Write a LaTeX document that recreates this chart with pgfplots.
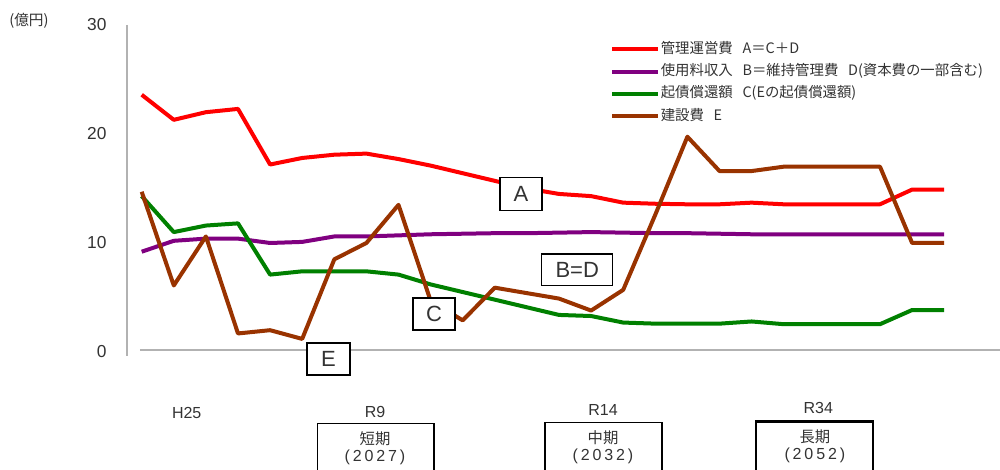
\documentclass[border=0pt]{standalone}
\usepackage{fontspec}
\setmainfont{Liberation Sans}
\newfontfamily\cjk{Noto Sans CJK JP}
\usepackage{pgfplots}
\pgfplotsset{compat=1.18}
\definecolor{cA}{HTML}{FF0000}
\definecolor{cB}{HTML}{800080}
\definecolor{cC}{HTML}{008000}
\definecolor{cE}{HTML}{993300}
\definecolor{txt}{HTML}{333333}
\begin{document}
\begin{tikzpicture}
\begin{axis}[
  at={(0,0)}, anchor=south west,
  scale only axis, width=750pt, height=352.5pt,
  xmin=-4.414, xmax=26.738, ymin=-10.826, ymax=32.294,
  axis line style={draw=none},
  xtick=\empty,
  ytick={0,10,20,30},
  major tick length=0pt,
  /pgf/number format/assume math mode=true,
  yticklabel style={anchor=east, xshift=80pt, inner sep=0pt, font=\fontsize{13}{13}\selectfont, text=txt},
  clip=false,
  legend style={at={(axis cs:14.461,28.899)}, anchor=north west, draw=none, fill=none,
    font=\cjk\fontsize{10.8}{13}\selectfont, text=txt, row sep=2.7pt,
    nodes={inner sep=1pt, text height=9pt, text depth=3pt}},
  legend cell align=left,
  legend image code/.code={\draw[#1, line width=3pt] (0pt,0pt) -- (34pt,0pt);},
  every axis plot/.append style={line width=3pt, line join=round},
]
\draw[gray!60, line width=1.5pt] (axis cs:-0.458,30) -- (axis cs:-0.458,-0.367);
\draw[gray!60, line width=1.5pt] (axis cs:-0.053,0.138) -- (axis cs:26.738,0.138);

\addplot[cA] coordinates {(0,23.6)(1,21.3)(2,22.0)(3,22.3)(4,17.2)(5,17.8)(6,18.1)(7,18.2)(8,17.7)(9,17.1)(10,16.4)(11,15.7)(12,15.0)(13,14.5)(14,14.3)(15,13.7)(16,13.6)(17,13.55)(18,13.55)(19,13.7)(20,13.55)(21,13.55)(22,13.55)(23,13.55)(24,14.9)(25,14.9)};
\addlegendentry{管理運営費\hspace{0.45em} A＝C＋D}
\addplot[cB] coordinates {(0,9.2)(1,10.2)(2,10.4)(3,10.4)(4,10.0)(5,10.1)(6,10.6)(7,10.6)(8,10.7)(9,10.8)(10,10.85)(11,10.9)(12,10.9)(13,10.95)(14,11.0)(15,10.95)(16,10.9)(17,10.9)(18,10.85)(19,10.8)(20,10.8)(21,10.8)(22,10.8)(23,10.8)(24,10.8)(25,10.8)};
\addlegendentry{使用料収入\hspace{0.45em} B＝維持管理費\hspace{0.45em} D(資本費の一部含む)}
\addplot[cC] coordinates {(0,14.3)(1,11.0)(2,11.6)(3,11.8)(4,7.1)(5,7.4)(6,7.4)(7,7.4)(8,7.1)(9,6.2)(10,5.5)(11,4.8)(12,4.1)(13,3.4)(14,3.3)(15,2.7)(16,2.6)(17,2.6)(18,2.6)(19,2.8)(20,2.55)(21,2.55)(22,2.55)(23,2.55)(24,3.85)(25,3.85)};
\addlegendentry{起債償還額\hspace{0.45em} C(Eの起債償還額)}
\addplot[cE] coordinates {(0,14.7)(1,6.1)(2,10.6)(3,1.7)(4,2.0)(5,1.2)(6,8.5)(7,10.0)(8,13.5)(9,4.7)(10,2.9)(11,5.9)(12,5.4)(13,4.9)(14,3.8)(15,5.7)(16,12.6)(17,19.75)(18,16.6)(19,16.6)(20,17.0)(21,17.0)(22,17.0)(23,17.0)(24,10.0)(25,10.0)};
\addlegendentry{建設費\hspace{0.45em} E}

% annotation boxes
\tikzset{ann/.style={draw=black, fill=white, line width=0.9pt, inner sep=0pt, font=\fontsize{16.5}{16.5}\selectfont, text=txt}}
\node[ann, minimum width=31.5pt, minimum height=24.75pt] at (axis cs:11.816,14.53) {A};
\node[ann, minimum width=53.25pt, minimum height=23.8pt] at (axis cs:13.567,7.53) {B=D};
\node[ann, minimum width=31.5pt, minimum height=24pt] at (axis cs:9.106,3.486) {C};
\node[ann, minimum width=32.25pt, minimum height=24pt] at (axis cs:5.819,-0.642) {E};

% unit
\node[font=\cjk\fontsize{11}{11}\selectfont, text=txt] at (axis cs:-3.511,30.367) {(億円)};

% period labels
\tikzset{per/.style={font=\fontsize{12}{12}\selectfont, text=txt, inner sep=0pt}}
\node[per] at (axis cs:1.402,-5.624) {H25};
\node[per] at (axis cs:7.268,-5.477) {R9};
\node[per] at (axis cs:14.371,-5.367) {R14};
\node[per] at (axis cs:21.078,-5.165) {R34};

\draw[black, line width=1.1pt] (axis cs:5.470,-11.743) rectangle (axis cs:9.106,-6.541);
\draw[black, line width=1.1pt] (axis cs:12.558,-11.743) rectangle (axis cs:16.209,-6.468);
\draw[black, line width=1.8pt] (axis cs:19.137,-11.743) rectangle (axis cs:22.773,-6.394);

\tikzset{bj/.style={font=\cjk\fontsize{11.5}{11.5}\selectfont, text=txt, inner sep=0pt},
         by/.style={font=\addfontfeatures{LetterSpace=18}\fontsize{12}{12}\selectfont, text=txt, inner sep=0pt}}
\node[bj] at (axis cs:7.268,-7.982) {短期};
\node[by] at (axis cs:7.268,-9.697) {(2027)};
\node[bj] at (axis cs:14.371,-7.890) {中期};
\node[by] at (axis cs:14.371,-9.587) {(2032)};
\node[bj] at (axis cs:20.97,-7.771) {長期};
\node[by] at (axis cs:20.97,-9.450) {(2052)};
\end{axis}
\pgfresetboundingbox
\useasboundingbox (0,0) rectangle (750pt,352.5pt);
\end{tikzpicture}
\end{document}
